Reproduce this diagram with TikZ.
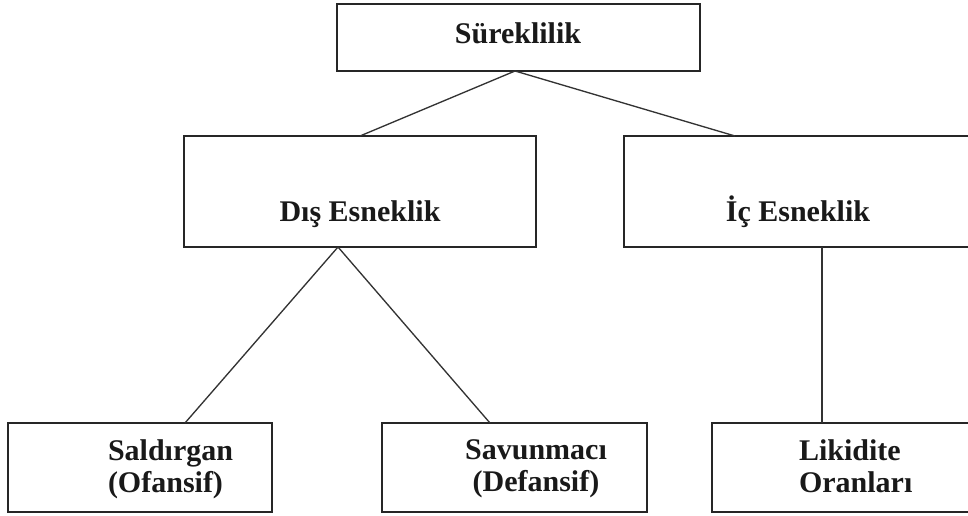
\documentclass[tikz,border=0pt]{standalone}
\usepackage{fontspec}
\setmainfont{Liberation Serif}
\begin{document}
\begin{tikzpicture}[x=0.75pt,y=-0.75pt,
  box/.style={draw=black!85,line width=1.2pt,inner sep=0pt,outer sep=0pt,fill=none},
  lbl/.style={inner sep=0pt,outer sep=0pt,font=\fontsize{22.5}{24}\selectfont\bfseries,text=black!90},
  conn/.style={draw=black!80,line width=1pt}]
\useasboundingbox (0,0) rectangle (968,516);
\clip (0,0) rectangle (968,516);
% boxes
\node[box,minimum width=272.25pt,minimum height=50.25pt] (top) at (518.5,37.5) {};
\node[box,minimum width=264pt,minimum height=83.25pt] (dis) at (360,191.5) {};
\node[box,minimum width=263.25pt,minimum height=83.25pt] (ic) at (799.5,191.5) {};
\node[box,minimum width=198pt,minimum height=66.75pt] (sal) at (140,467.5) {};
\node[box,minimum width=198.75pt,minimum height=66.75pt] (sav) at (514.5,467.5) {};
\node[box,minimum width=197.25pt,minimum height=66.75pt] (lik) at (843.5,467.5) {};
% texts
\node[lbl,anchor=base] (ttop) at (518,44) {Süreklilik};
\node[lbl,anchor=base] (tdis) at (360,222) {Dış Esneklik};
\node[lbl,anchor=base] (tic) at (798,222) {İç Esneklik};
\node[lbl,align=left,anchor=west] (tsal) at (108,469) {Saldırgan\\(Ofansif)};
\node[lbl,align=center] (tsav) at (536,469) {Savunmacı\\(Defansif)};
\node[lbl,align=left,anchor=west] (tlik) at (799,466) {Likidite\\Oranları};
% connector points
\coordinate (apexT) at ([xshift=-2.6pt]top.south);
\coordinate (ictop) at ([xshift=-48.4pt]ic.north);
\coordinate (apexD) at ([xshift=-16.5pt]dis.south);
\coordinate (salTop) at ([xshift=33.75pt]sal.north);
\coordinate (savTop) at ([xshift=-18.4pt]sav.north);
\coordinate (icBot) at ([xshift=16.9pt]ic.south);
% connectors
\draw[conn] (apexT) -- (dis.north);
\draw[conn] (apexT) -- (ictop);
\draw[conn] (apexD) -- (salTop);
\draw[conn] (apexD) -- (savTop);
\draw[conn] (icBot) -- (icBot |- lik.north);
\end{tikzpicture}
\end{document}
